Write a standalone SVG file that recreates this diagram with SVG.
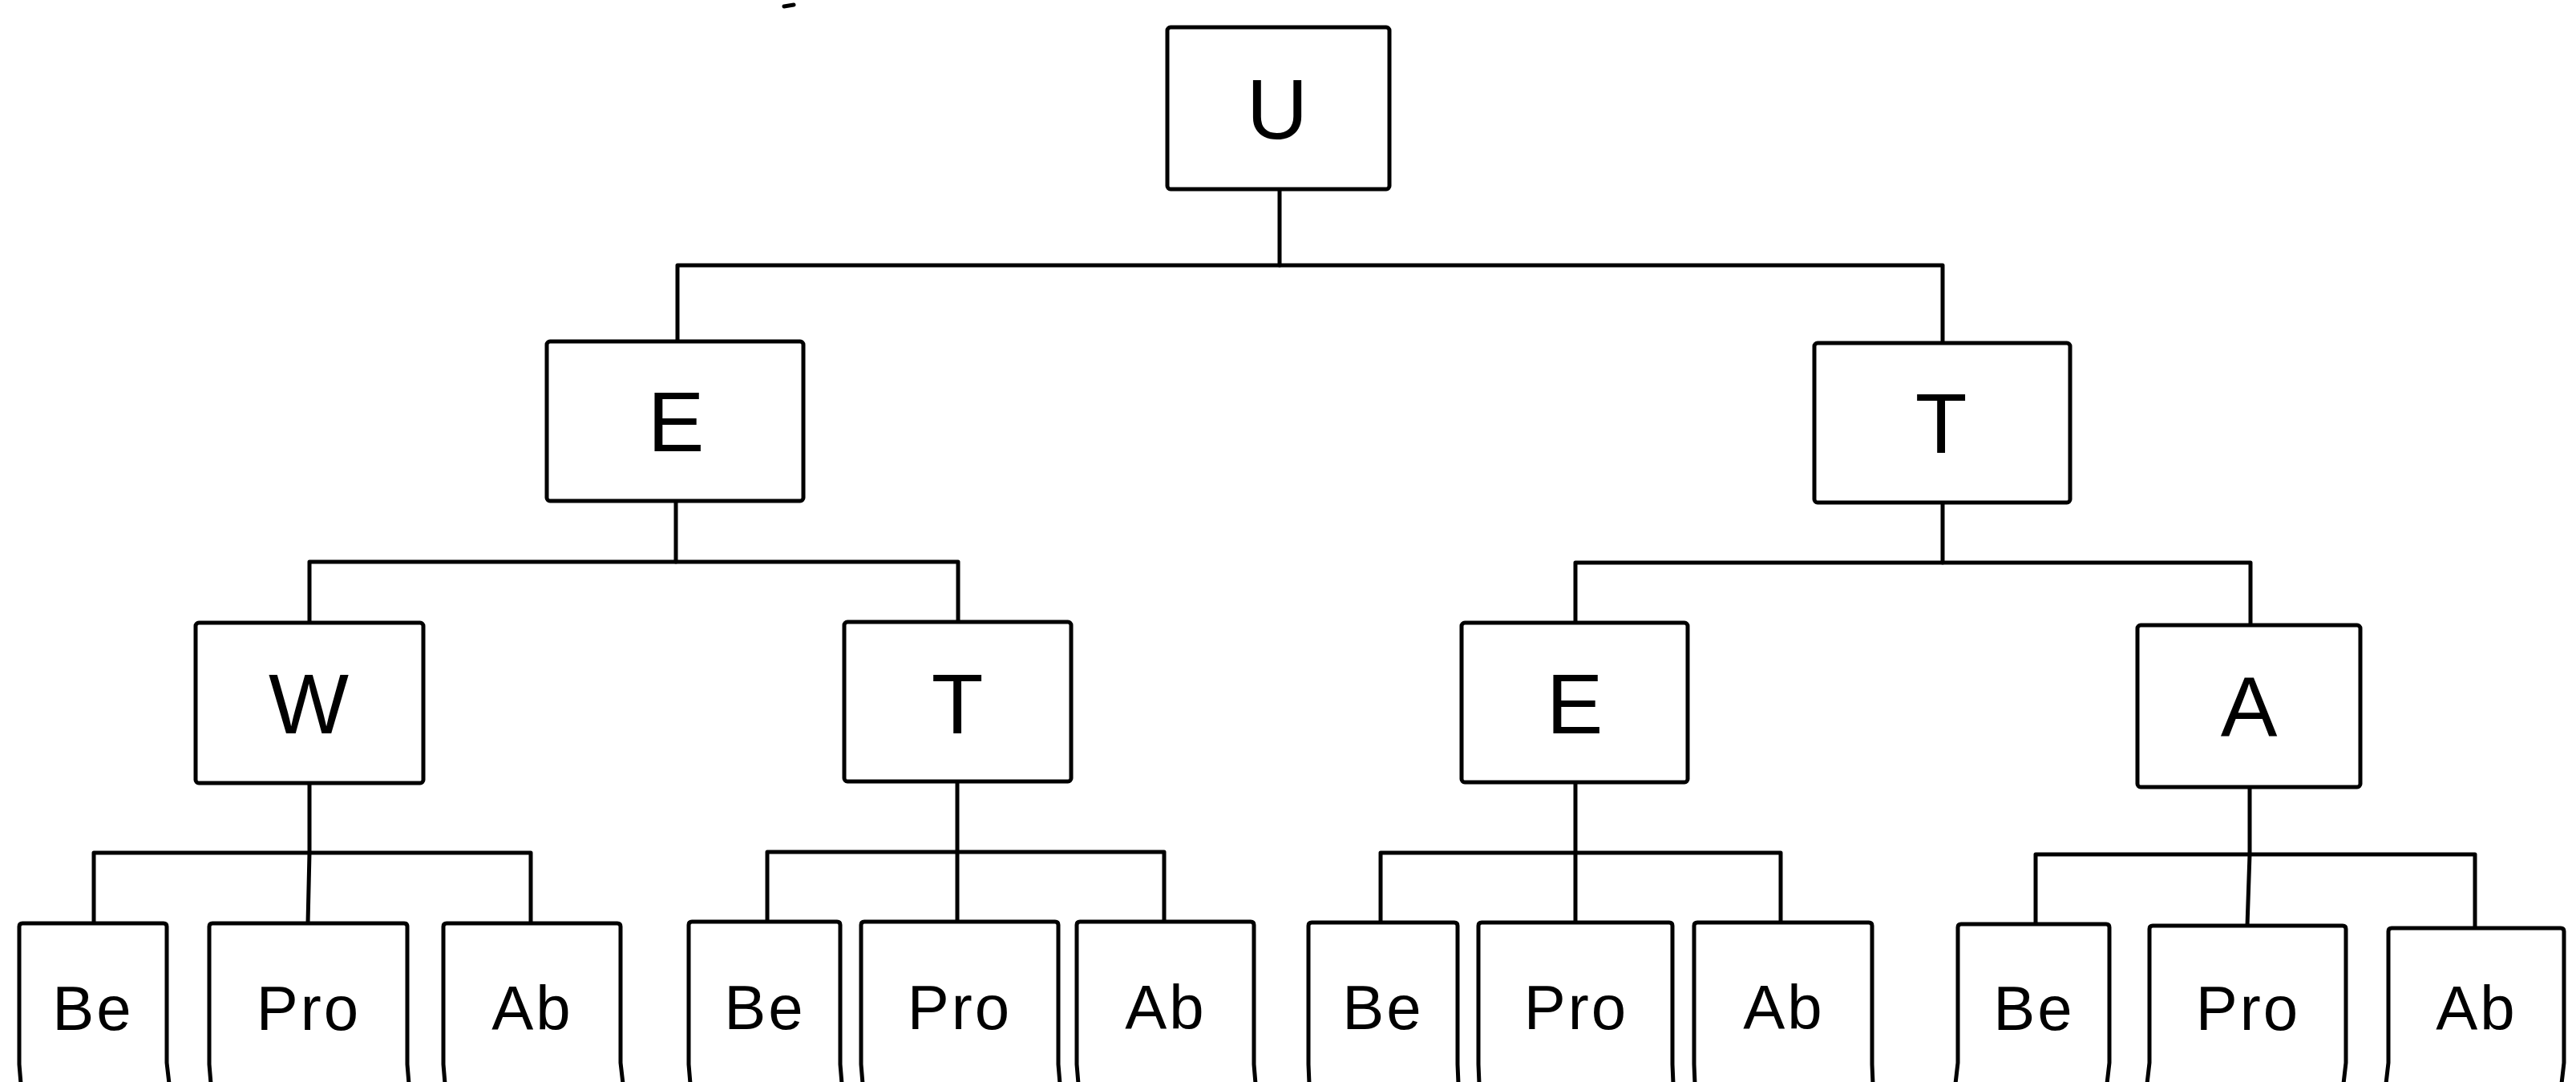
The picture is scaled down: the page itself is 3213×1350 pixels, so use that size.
<svg xmlns="http://www.w3.org/2000/svg" width="3213" height="1350" viewBox="0 0 3213 1350">
<style>
.box{fill:#fff;stroke:#000;stroke-width:5;stroke-linejoin:round}
.ln{fill:none;stroke:#000;stroke-width:5;stroke-linejoin:round;stroke-linecap:round}
.big{font-family:"Liberation Sans",Arial,sans-serif;font-size:106px;fill:#000;text-anchor:middle}
.sm{font-family:"Liberation Sans",Arial,sans-serif;font-size:78px;fill:#000;text-anchor:middle;letter-spacing:3px}
</style>
<rect width="3213" height="1350" fill="#fff"/>
<g id="connectors">
<path class="ln" d="M1596 236 V331"/>
<path class="ln" d="M845 426 V331 H2423 V428"/>
<path class="ln" d="M843 625 V701"/>
<path class="ln" d="M386 777 V701 H1195 V776"/>
<path class="ln" d="M2423 627 V702"/>
<path class="ln" d="M1965 777 V702 H2807 V780"/>
<path class="ln" d="M386 977 V1064 L384 1152"/>
<path class="ln" d="M117 1152 V1064 H662 V1152"/>
<path class="ln" d="M1194 975 V1152"/>
<path class="ln" d="M957 1150 V1063 H1452 V1150"/>
<path class="ln" d="M1965 976 V1151"/>
<path class="ln" d="M1722 1151 V1064 H2221 V1151"/>
<path class="ln" d="M2806 982 V1066 L2803 1155"/>
<path class="ln" d="M2539 1153 V1066 H3087 V1158"/>
<path class="ln" d="M978 8 L990 6" stroke-width="3"/>
</g>
<g id="n-U"><rect class="box" x="1456" y="34" width="277" height="202" rx="4"/><text class="big" x="1593" y="173">U</text></g>
<g id="n-E1"><rect class="box" x="682" y="426" width="320" height="199" rx="4"/><text class="big" x="843" y="563">E</text></g>
<g id="n-T1"><rect class="box" x="2263" y="428" width="319" height="199" rx="4"/><text class="big" x="2421" y="565">T</text></g>
<g id="n-W"><rect class="box" x="244" y="777" width="284" height="200" rx="4"/><text class="big" x="385" y="915">W</text></g>
<g id="n-T2"><rect class="box" x="1053" y="776" width="283" height="199" rx="4"/><text class="big" x="1194" y="915">T</text></g>
<g id="n-E2"><rect class="box" x="1823" y="777" width="282" height="199" rx="4"/><text class="big" x="1964" y="915">E</text></g>
<g id="n-A"><rect class="box" x="2666" y="780" width="278" height="202" rx="4"/><text class="big" x="2805" y="918">A</text></g>
<g id="n-W-Be"><path class="box" d="M26 1352 L24 1328 V1156 Q24 1152 28 1152 H204 Q208 1152 208 1156 V1326 L211 1352"/><text class="sm" x="116" y="1285">Be</text></g>
<g id="n-W-Pro"><path class="box" d="M263 1352 L261 1328 V1156 Q261 1152 265 1152 H504 Q508 1152 508 1156 V1328 L510 1352"/><text class="sm" x="385" y="1285">Pro</text></g>
<g id="n-W-Ab"><path class="box" d="M555 1352 L553 1328 V1156 Q553 1152 557 1152 H770 Q774 1152 774 1156 V1326 L777 1352"/><text class="sm" x="664" y="1285">Ab</text></g>
<g id="n-T-Be"><path class="box" d="M861 1352 L859 1328 V1154 Q859 1150 863 1150 H1044 Q1048 1150 1048 1154 V1328 L1050 1352"/><text class="sm" x="954" y="1284">Be</text></g>
<g id="n-T-Pro"><path class="box" d="M1076 1352 L1074 1328 V1154 Q1074 1150 1078 1150 H1316 Q1320 1150 1320 1154 V1328 L1322 1352"/><text class="sm" x="1197" y="1284">Pro</text></g>
<g id="n-T-Ab"><path class="box" d="M1345 1352 L1343 1328 V1154 Q1343 1150 1347 1150 H1560 Q1564 1150 1564 1154 V1328 L1566 1352"/><text class="sm" x="1454" y="1284">Ab</text></g>
<g id="n-E-Be"><path class="box" d="M1633 1352 L1632 1328 V1155 Q1632 1151 1636 1151 H1814 Q1818 1151 1818 1155 V1328 L1819 1352"/><text class="sm" x="1725" y="1284">Be</text></g>
<g id="n-E-Pro"><path class="box" d="M1845 1352 L1844 1328 V1155 Q1844 1151 1848 1151 H2082 Q2086 1151 2086 1155 V1328 L2087 1352"/><text class="sm" x="1966" y="1284">Pro</text></g>
<g id="n-E-Ab"><path class="box" d="M2114 1352 L2113 1328 V1155 Q2113 1151 2117 1151 H2331 Q2335 1151 2335 1155 V1328 L2336 1352"/><text class="sm" x="2225" y="1284">Ab</text></g>
<g id="n-A-Be"><path class="box" d="M2439 1352 L2442 1326 V1157 Q2442 1153 2446 1153 H2627 Q2631 1153 2631 1157 V1326 L2628 1352"/><text class="sm" x="2537" y="1285">Be</text></g>
<g id="n-A-Pro"><path class="box" d="M2678 1352 L2681 1326 V1159 Q2681 1155 2685 1155 H2922 Q2926 1155 2926 1159 V1326 L2923 1352"/><text class="sm" x="2804" y="1285">Pro</text></g>
<g id="n-A-Ab"><path class="box" d="M2976 1352 L2979 1326 V1162 Q2979 1158 2983 1158 H3194 Q3198 1158 3198 1162 V1326 L3195 1352"/><text class="sm" x="3089" y="1285">Ab</text></g>
</svg>
